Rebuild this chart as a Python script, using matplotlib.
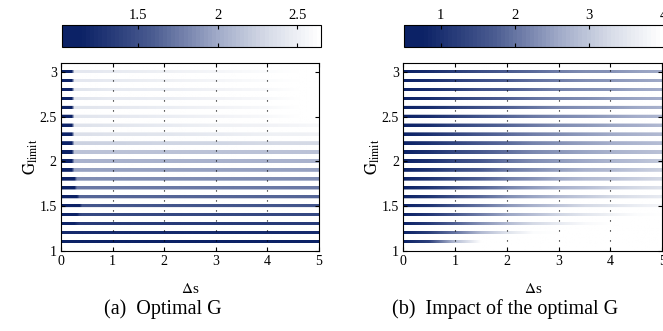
"""Two stripe heat maps: optimal G and its impact vs. delta s and G_limit."""

import matplotlib
matplotlib.use("Agg")
import matplotlib.pyplot as plt
import numpy as np
from matplotlib.cm import ScalarMappable
from matplotlib.colors import LinearSegmentedColormap, Normalize
from matplotlib.image import NonUniformImage

plt.rcParams["font.family"] = ["Liberation Serif", "DejaVu Serif"]
plt.rcParams["mathtext.fontset"] = "stix"

# G_limit rows (one stripe each)
G_LIMIT = [1.1, 1.2, 1.3, 1.4, 1.5, 1.6, 1.7, 1.8, 1.9, 2.0,
           2.1, 2.2, 2.3, 2.4, 2.5, 2.6, 2.7, 2.8, 2.9, 3.0]

# (a) optimal G, sampled at these delta-s nodes
DS_A = [0, 0.2, 0.25, 0.3, 0.35, 0.4, 1, 2, 3, 4, 4.6, 5]
OPT_G = [
    [1.10, 1.10, 1.10, 1.10, 1.10, 1.10, 1.10, 1.10, 1.10, 1.10, 1.10, 1.10],
    [1.20, 1.20, 1.20, 1.20, 1.20, 1.20, 1.20, 1.20, 1.20, 1.20, 1.20, 1.20],
    [1.05, 1.05, 1.10, 1.25, 1.35, 1.35, 1.35, 1.35, 1.35, 1.35, 1.35, 1.35],
    [1.05, 1.05, 1.05, 1.10, 1.40, 1.45, 1.45, 1.45, 1.45, 1.45, 1.45, 1.45],
    [1.05, 1.05, 1.05, 1.05, 1.10, 1.55, 1.55, 1.55, 1.55, 1.55, 1.55, 1.55],
    [1.05, 1.05, 1.05, 1.10, 1.65, 1.65, 1.65, 1.65, 1.65, 1.65, 1.65, 1.65],
    [1.05, 1.05, 1.05, 1.75, 1.75, 1.75, 1.75, 1.75, 1.75, 1.75, 1.75, 1.75],
    [1.05, 1.05, 1.10, 1.85, 1.85, 1.85, 1.85, 1.85, 1.85, 1.85, 1.85, 1.85],
    [1.05, 1.05, 1.95, 1.95, 1.95, 1.95, 1.95, 1.95, 1.95, 1.95, 1.95, 1.95],
    [1.05, 1.05, 2.05, 2.05, 2.05, 2.05, 2.05, 2.05, 2.05, 2.05, 2.05, 2.05],
    [1.05, 1.05, 2.15, 2.15, 2.15, 2.15, 2.15, 2.15, 2.15, 2.15, 2.15, 2.15],
    [1.05, 1.05, 2.25, 2.25, 2.25, 2.25, 2.25, 2.27, 2.29, 2.30, 2.30, 2.30],
    [1.05, 1.05, 2.35, 2.35, 2.35, 2.35, 2.38, 2.42, 2.46, 2.50, 2.52, 2.54],
    [1.05, 1.05, 2.38, 2.38, 2.38, 2.38, 2.41, 2.45, 2.50, 2.54, 2.56, 2.58],
    [1.05, 1.05, 2.40, 2.40, 2.40, 2.40, 2.44, 2.48, 2.53, 2.58, 2.70, 2.70],
    [1.05, 1.05, 2.40, 2.40, 2.40, 2.40, 2.44, 2.48, 2.53, 2.58, 2.70, 2.70],
    [1.05, 1.05, 2.42, 2.42, 2.42, 2.42, 2.45, 2.49, 2.54, 2.59, 2.70, 2.70],
    [1.05, 1.05, 2.42, 2.42, 2.42, 2.42, 2.45, 2.49, 2.54, 2.59, 2.70, 2.70],
    [1.05, 1.05, 2.43, 2.43, 2.43, 2.43, 2.46, 2.50, 2.55, 2.60, 2.70, 2.70],
    [1.05, 1.05, 2.43, 2.43, 2.43, 2.43, 2.46, 2.50, 2.55, 2.60, 2.70, 2.70],
]

# (b) impact of the optimal G
DS_B = [0, 0.5, 1, 1.5, 2, 2.5, 3, 3.5, 4, 4.5, 5]
IMPACT = [
    [0.55, 1.30, 2.90, 4.00, 4.00, 4.00, 4.00, 4.00, 4.00, 4.00, 4.00],
    [0.55, 1.25, 2.00, 2.80, 3.45, 3.90, 4.00, 4.00, 4.00, 4.00, 4.00],
    [0.55, 1.20, 1.80, 2.35, 2.85, 3.25, 3.60, 3.85, 4.00, 4.00, 4.00],
    [0.55, 1.15, 1.65, 2.10, 2.55, 2.90, 3.20, 3.50, 3.70, 3.90, 4.00],
    [0.55, 1.10, 1.60, 2.00, 2.40, 2.70, 3.00, 3.25, 3.45, 3.65, 3.80],
    [0.55, 1.10, 1.55, 1.90, 2.25, 2.55, 2.80, 3.05, 3.25, 3.45, 3.60],
    [0.55, 1.05, 1.50, 1.85, 2.15, 2.45, 2.70, 2.90, 3.10, 3.25, 3.40],
    [0.55, 1.05, 1.45, 1.80, 2.10, 2.35, 2.60, 2.80, 2.95, 3.10, 3.25],
    [0.55, 1.05, 1.45, 1.75, 2.05, 2.30, 2.50, 2.70, 2.85, 3.00, 3.15],
    [0.55, 1.00, 1.40, 1.70, 2.00, 2.25, 2.45, 2.60, 2.75, 2.90, 3.05],
    [0.55, 1.00, 1.40, 1.70, 1.95, 2.20, 2.40, 2.55, 2.70, 2.85, 2.95],
    [0.55, 1.00, 1.35, 1.65, 1.90, 2.15, 2.35, 2.50, 2.65, 2.75, 2.90],
    [0.55, 1.00, 1.35, 1.65, 1.90, 2.10, 2.30, 2.45, 2.60, 2.70, 2.85],
    [0.55, 0.95, 1.35, 1.60, 1.85, 2.05, 2.25, 2.40, 2.55, 2.65, 2.80],
    [0.55, 0.95, 1.30, 1.60, 1.85, 2.05, 2.20, 2.35, 2.50, 2.65, 2.75],
    [0.55, 0.95, 1.30, 1.55, 1.80, 2.00, 2.20, 2.35, 2.45, 2.60, 2.70],
    [0.55, 0.95, 1.30, 1.55, 1.80, 2.00, 2.15, 2.30, 2.45, 2.55, 2.65],
    [0.55, 0.95, 1.25, 1.55, 1.75, 1.95, 2.15, 2.25, 2.40, 2.55, 2.65],
    [0.55, 0.95, 1.25, 1.50, 1.75, 1.95, 2.10, 2.25, 2.40, 2.50, 2.60],
    [0.55, 0.95, 1.25, 1.50, 1.75, 1.90, 2.10, 2.25, 2.35, 2.50, 2.60],
]

A_TICKS = [1.5, 2, 2.5]
B_TICKS = [1, 2, 3, 4]
Y_TICKS = [1, 1.5, 2, 2.5, 3]

NAVY = "#0c2266"
CMAP = LinearSegmentedColormap.from_list(
    "navy_white",
    [(0.0, NAVY), (0.07, NAVY), (0.35, "#4b5c91"), (0.6, "#a0aac8"),
     (0.8, "#d7dce8"), (1.0, "white")], N=64)
HALF = 0.017  # half thickness of a stripe in G_limit units
EDGE = 0.003  # width of the fade between a stripe and the white gap


def style_axes(ax):
    ax.set_xlim(0, 5)
    ax.set_ylim(1, 3.1)
    ax.set_xticks(range(6))
    ax.set_yticks(Y_TICKS)
    ax.set_yticklabels(["1", "1.5", "2", "2.5", "3"])
    ax.tick_params(direction="in", top=True, right=True, length=3,
                   width=0.8, labelsize=10, pad=3)
    for sp in ax.spines.values():
        sp.set_linewidth(0.8)
    for x in [1, 2, 3, 4]:
        ax.axvline(x, color="black", lw=0.8, ls=(0, (1, 8)), zorder=3)
    ax.set_xlabel(r"$\Delta$s", fontsize=11, labelpad=10)
    ax.set_ylabel(r"$\mathrm{G}_{\mathrm{limit}}$", fontsize=12, labelpad=0)


def draw_stripes(ax, ds, table, norm):
    # one image: each stripe is two equal rows, the gaps between are blank
    blank = np.full(len(ds), norm.vmax * 2)
    ys, rows = [1.0], [blank]
    for g, row in zip(G_LIMIT, table):
        ys += [g - HALF - EDGE, g - HALF, g + HALF, g + HALF + EDGE]
        rows += [blank, row, row, blank]
    ys.append(3.1)
    rows.append(blank)
    im = NonUniformImage(ax, interpolation="bilinear", cmap=CMAP, norm=norm)
    im.set_data(np.array(ds, dtype=float), np.array(ys), np.vstack(rows))
    ax.add_image(im)


def add_colorbar(fig, rect, norm, ticks):
    cax = fig.add_axes(rect)
    cb = fig.colorbar(ScalarMappable(norm=norm, cmap=CMAP), cax=cax,
                      orientation="horizontal", ticks=ticks)
    cax.xaxis.set_ticks_position("both")
    cax.xaxis.set_label_position("top")
    cax.tick_params(axis="x", direction="in", length=3, width=0.8,
                    labeltop=True, labelbottom=False, labelsize=10.5, pad=2)
    cb.outline.set_linewidth(0.8)
    cax.set_xticklabels([f"{t:g}" for t in ticks])


fig = plt.figure(figsize=(6.63, 3.31), dpi=100)

norm_a = Normalize(1.02, 2.65)
norm_b = Normalize(0.5, 4.0)

ax_a = fig.add_axes((0.092, 0.242, 0.389, 0.568))
draw_stripes(ax_a, DS_A, OPT_G, norm_a)
style_axes(ax_a)
add_colorbar(fig, (0.0935, 0.858, 0.391, 0.066), norm_a, A_TICKS)

ax_b = fig.add_axes((0.608, 0.242, 0.391, 0.568))
draw_stripes(ax_b, DS_B, IMPACT, norm_b)
style_axes(ax_b)
add_colorbar(fig, (0.609, 0.858, 0.392, 0.066), norm_b, B_TICKS)

fig.text(0.246, 0.065, "(a)  Optimal G", ha="center", va="center",
         fontsize=14.5)
fig.text(0.762, 0.065, "(b)  Impact of the optimal G", ha="center",
         va="center", fontsize=14.5)

fig.savefig("out.png", dpi=100)
